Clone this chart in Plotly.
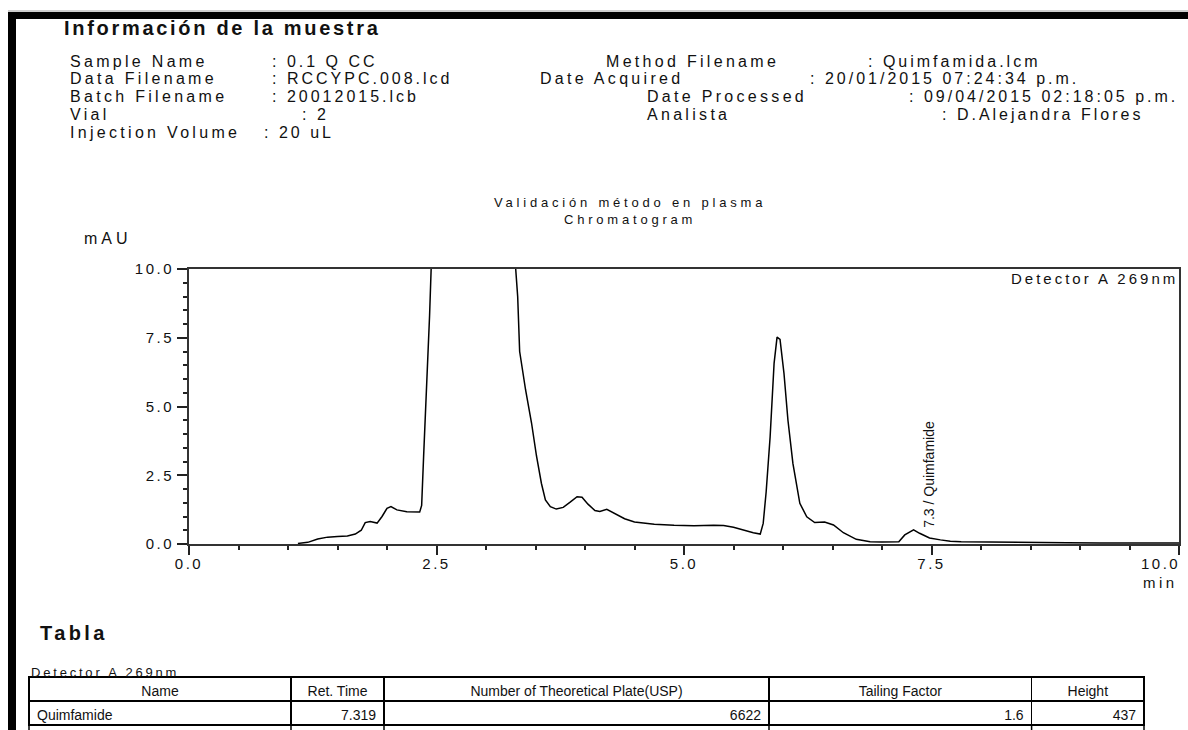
import plotly.graph_objects as go

# ---- chromatogram signal (retention time in min, absorbance in mAU) ----
time_min = [
    1.10, 1.20, 1.30, 1.40, 1.50, 1.60, 1.68, 1.74, 1.78, 1.83, 1.90, 1.95,
    2.00, 2.04, 2.10, 2.20, 2.33, 2.35, 2.37, 2.40, 2.43, 2.46, 2.55, 2.70,
    2.90, 3.10, 3.25, 3.30, 3.32, 3.34, 3.40, 3.46, 3.51, 3.56, 3.60, 3.65,
    3.71, 3.78, 3.85, 3.92, 3.97, 4.03, 4.10, 4.15, 4.22, 4.30, 4.40, 4.50,
    4.70, 4.90, 5.10, 5.30, 5.40, 5.50, 5.60, 5.70, 5.77, 5.80, 5.83, 5.87,
    5.91, 5.94, 5.97, 6.01, 6.05, 6.10, 6.17, 6.24, 6.32, 6.42, 6.51, 6.61,
    6.74, 6.88, 7.00, 7.17, 7.23, 7.319, 7.38, 7.48, 7.59, 7.69, 7.80, 8.00,
    8.20, 8.50, 8.87, 9.20, 9.54, 10.00,
]
signal_mau = [
    0.02, 0.06, 0.18, 0.25, 0.27, 0.29, 0.36, 0.50, 0.78, 0.82, 0.76, 1.00,
    1.30, 1.36, 1.24, 1.17, 1.16, 1.40, 3.20, 5.60, 8.30, 11.5, 22.0, 38.0,
    46.0, 36.0, 17.0, 10.0, 9.00, 7.00, 5.60, 4.40, 3.20, 2.20, 1.60, 1.36,
    1.27, 1.33, 1.52, 1.72, 1.70, 1.45, 1.22, 1.18, 1.26, 1.12, 0.92, 0.80,
    0.72, 0.68, 0.66, 0.68, 0.67, 0.61, 0.50, 0.41, 0.36, 0.75, 1.90, 3.90,
    6.57, 7.52, 7.44, 6.20, 4.50, 2.93, 1.48, 0.99, 0.78, 0.80, 0.69, 0.41,
    0.17, 0.08, 0.07, 0.08, 0.33, 0.517, 0.39, 0.22, 0.15, 0.10, 0.08, 0.07,
    0.06, 0.05, 0.05, 0.04, 0.045, 0.04,
]

# ---- identified peak ----
peak_name = "Quimfamide"
peak_rt = 7.319
peak_rt_label = "7.3"
peak_top_mau = 0.517

# ---- axes ----
x_tick_vals = [0.0, 2.5, 5.0, 7.5, 10.0]
y_tick_vals = [0.0, 2.5, 5.0, 7.5, 10.0]

# ---- sample information block ----
info_title = "Información de la muestra"
info_left_labels = ["Sample Name", "Data Filename", "Batch Filename", "Vial", "Injection Volume"]
info_left_values = [": 0.1 Q CC", ": RCCYPC.008.lcd", ": 20012015.lcb", ": 2", ": 20 uL"]
info_right_labels = ["Method Filename", "Date Acquired", "Date Processed", "Analista"]
info_right_values = [": Quimfamida.lcm", ": 20/01/2015 07:24:34 p.m.",
                     ": 09/04/2015 02:18:05 p.m.", ": D.Alejandra Flores"]

chart_title = ["Validación método en plasma", "Chromatogram"]
detector = "Detector A 269nm"

# ---- peak table ----
table_heading = "Tabla"
table_columns = ["Name", "Ret. Time", "Number of Theoretical Plate(USP)", "Tailing Factor", "Height"]
table_name = ["Quimfamide"]
table_ret_time = ["7.319"]
table_plates = [6622]
table_tailing = ["1.6"]
table_height = [437]

# ---------------------------------------------------------------------------
W, H = 1188, 730
FONT = "Liberation Sans, Arial, Helvetica, sans-serif"
INK = "#111111"


def px(x):
    return x / W


def py(y):
    return 1 - y / H


def spaced(text, ls):
    return f'<span style="letter-spacing:{ls}px">{text}</span>'


fig = go.Figure()

fig.add_trace(go.Scatter(
    x=time_min, y=signal_mau, mode="lines",
    line=dict(color="black", width=1.5),
    hoverinfo="skip", showlegend=False,
))

axis_common = dict(
    showgrid=False, zeroline=False, showline=True, mirror=True,
    linecolor="#333333", linewidth=2, automargin=False,
    ticks="outside", tickcolor="#222222", tickwidth=1.5,
    tickfont=dict(family=FONT, size=15, color=INK),
    range=[0, 10], fixedrange=True,
    tickmode="array",
    minor=dict(tickmode="linear", tick0=0, dtick=0.5, ticks="outside",
               ticklen=4, tickwidth=1.5, tickcolor="#222222"),
)

# the last x label is set flush right against the frame edge (drawn below)
x_tick_text = [spaced(f"{v:.1f}", 2.5) for v in x_tick_vals]
x_tick_text[-1] = ""

fig.update_xaxes(
    **axis_common,
    domain=[px(189), px(1179)],
    tickvals=x_tick_vals,
    ticktext=x_tick_text,
    ticklen=9,
    ticklabelstandoff=-4,
)
fig.update_yaxes(
    **axis_common,
    domain=[py(544), py(269)],
    tickvals=y_tick_vals,
    ticktext=[spaced(f"{v:.1f}", 2.5) for v in y_tick_vals],
    ticklen=10,
)

ann = []


def text(x, y, s, size, ls, xanchor="left", bold=False):
    if isinstance(s, str):
        s = [s]
    body = "<br>".join(spaced(line, ls) for line in s)
    if bold:
        body = f"<b>{body}</b>"
    ann.append(dict(
        x=px(x), y=py(y), xref="paper", yref="paper", text=body,
        showarrow=False, xanchor=xanchor, yanchor="middle",
        font=dict(family=FONT, size=size, color=INK),
    ))


# header block
text(62, 28, info_title, 20, 2.7, bold=True)
row_y = [62, 79, 97, 114, 132]
left_value_x = [270, 270, 270, 300, 262]
right_label_x = [604, 538, 645, 645]
right_value_x = [866, 808, 907, 940]
for i, lab in enumerate(info_left_labels):
    text(68, row_y[i], lab, 16, 3.3)
    text(left_value_x[i], row_y[i], info_left_values[i], 16, 3.0)
for i, lab in enumerate(info_right_labels):
    text(right_label_x[i], row_y[i], lab, 16, 3.3)
    text(right_value_x[i], row_y[i], info_right_values[i], 16, 3.0)

# chart titles and axis captions
text(630, 211, chart_title, 13, 3.8, xanchor="center")
text(82, 238, "mAU", 16, 4)
text(1180, 582, "min", 15, 3.5, xanchor="right")
text(1180, 279, detector, 15, 3, xanchor="right")

# right-most x tick label, right-aligned to its tick
ann.append(dict(
    x=x_tick_vals[-1], y=py(563), xref="x", yref="paper",
    text=spaced(f"{x_tick_vals[-1]:.1f}", 2.5),
    showarrow=False, xanchor="right", yanchor="middle", xshift=3,
    font=dict(family=FONT, size=15, color=INK),
))

# peak label, rotated along the peak
ann.append(dict(
    x=peak_rt, y=peak_top_mau, xref="x", yref="y",
    text=f"{peak_rt_label} / {peak_name}", textangle=-90,
    showarrow=False, xanchor="left", yanchor="bottom", xshift=6, yshift=0,
    font=dict(family=FONT, size=14, color=INK),
))

# table captions
text(38, 633, table_heading, 20, 3.4, bold=True)
text(29, 672, detector, 13, 2.8)

fig.update_layout(annotations=ann)

# peak table
col_w = [262, 93, 385, 262.6, 112.4]
table_left, table_top = 29, 677
table_right = table_left + sum(col_w)
tfont = dict(family=FONT, size=14, color=INK)
fig.add_trace(go.Table(
    domain=dict(x=[px(table_left), px(table_right)], y=[0.0, py(table_top)]),
    columnwidth=col_w,
    header=dict(
        values=table_columns,
        align="center", height=24, font=tfont,
        fill_color="white", line=dict(color="black", width=1.5),
    ),
    cells=dict(
        values=[table_name, table_ret_time, table_plates, table_tailing, table_height],
        align=["left", "right", "right", "right", "right"], height=24, font=tfont,
        fill_color="white", line=dict(color="black", width=1.5),
    ),
))

# page frame and column rules continuing below the table
shapes = [
    dict(type="rect", xref="paper", yref="paper", x0=px(8), x1=px(16), y0=0, y1=py(12),
         fillcolor="black", line=dict(width=0)),
    dict(type="rect", xref="paper", yref="paper", x0=px(8), x1=1, y0=py(19), y1=py(12),
         fillcolor="black", line=dict(width=0)),
    dict(type="line", xref="paper", yref="paper", x0=px(8), x1=1, y0=py(11), y1=py(11),
         line=dict(color="#9a9a9a", width=1)),
]
edges = [table_left]
for w in col_w:
    edges.append(edges[-1] + w)
for e in edges:
    shapes.append(dict(type="line", xref="paper", yref="paper",
                       x0=px(e), x1=px(e), y0=0, y1=py(724),
                       line=dict(color="black", width=1.5)))

fig.update_layout(
    shapes=shapes,
    width=W, height=H,
    margin=dict(l=0, r=0, t=0, b=0, autoexpand=False),
    paper_bgcolor="white", plot_bgcolor="white",
    showlegend=False,
    font=dict(family=FONT, color=INK),
)

fig.write_html("out.html", config=dict(displayModeBar=False))
